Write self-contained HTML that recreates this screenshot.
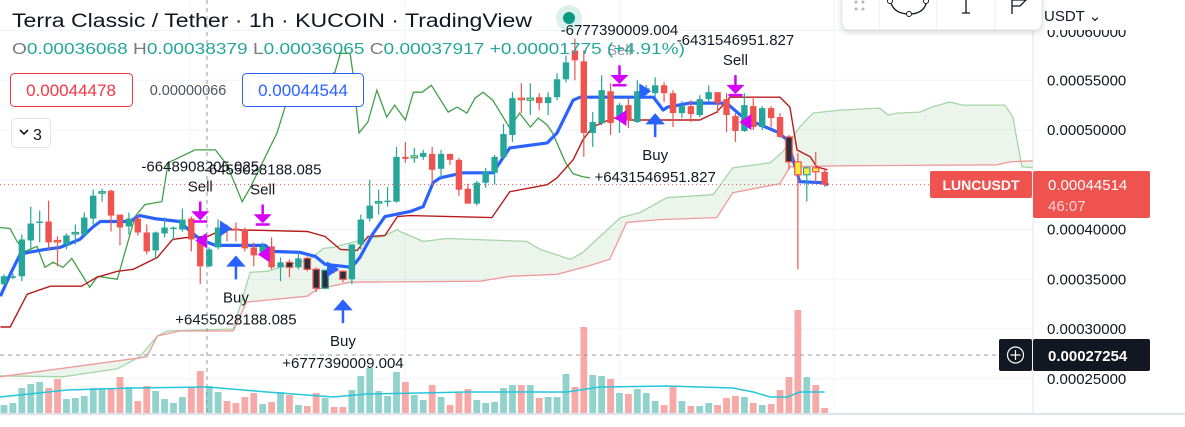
<!DOCTYPE html>
<html><head><meta charset="utf-8"><style>
html,body{margin:0;padding:0;background:#fff;overflow:hidden}
svg{display:block;font-family:"Liberation Sans",sans-serif}
</style></head><body>
<svg id="chart" width="1185" height="427" viewBox="0 0 1185 427" xmlns="http://www.w3.org/2000/svg">
<g id="grid"></g>
<g id="cloud"></g>
<g id="vol"></g>
<g id="lines"></g>
<g id="candles"></g>
<g id="marks"></g>
<g id="over"></g>
</svg>
<script>
// prices in units of 1e-5 USDT
const open=[34.5,35.2,35.3,38.9,40.7,40.8,38.9,38.5,39.6,39.5,41.1,43.7,43.9,41.5,40.3,41.1,39.7,37.9,39.6,40.1,40.0,41.1,39.0,36.3,38.2,40.2,40.1,40.0,38.2,37.7,38.3,36.2,36.7,36.2,37.1,36.0,34.1,36.0,35.8,35.0,38.5,41.1,42.7,42.8,42.8,47.3,47.2,47.3,47.6,46.1,47.6,47.0,44.1,42.6,44.7,45.7,47.3,49.5,53.2,53.0,53.3,52.7,53.3,55.1,58.0,56.9,49.7,50.7,53.9,51.0,52.5,50.8,53.8,53.7,54.5,53.7,51.7,52.4,51.5,53.1,53.8,53.1,51.4,49.9,52.4,50.3,52.2,51.3,49.3,46.8,45.5,46.2,45.8];
const close=[35.3,35.3,39.0,40.6,40.8,38.7,38.8,39.4,39.7,41.2,43.4,43.8,41.4,40.2,41.1,39.7,37.8,39.7,40.2,40.2,41.0,39.0,36.3,38.0,40.2,40.0,39.9,38.1,37.4,38.3,36.2,36.7,36.2,37.1,36.0,34.1,35.9,35.9,35.0,38.5,41.0,42.4,42.8,42.9,47.3,47.1,47.4,47.7,46.0,47.6,47.0,44.0,42.6,44.7,45.8,47.3,49.6,53.2,53.1,53.2,52.7,53.3,55.1,56.8,57.0,49.7,50.8,54.0,50.7,52.5,51.0,53.9,54.2,54.5,53.7,51.7,52.4,51.6,53.1,53.8,52.7,51.5,49.9,52.5,50.3,52.2,51.2,49.3,46.8,45.5,46.2,45.8,44.5];
const high=[35.5,35.6,39.5,42.3,41.9,42.9,39.3,39.6,40.5,41.7,44.0,44.1,44.0,41.5,41.7,41.4,40.5,39.8,41.2,40.3,42.1,41.3,39.2,38.2,41.0,40.5,40.7,40.2,38.7,38.7,39.2,37.2,37.0,37.7,37.3,36.2,36.0,36.3,35.9,38.5,41.5,45.0,44.0,44.3,48.3,48.8,48.2,48.0,48.3,48.0,47.6,47.2,44.6,44.9,46.2,47.5,50.6,53.8,54.7,54.7,53.7,53.8,55.7,57.5,59.2,58.0,51.8,55.5,54.7,52.7,53.2,55.0,54.5,55.3,54.8,54.0,52.9,53.0,53.5,54.5,53.8,53.7,51.7,53.7,53.4,52.4,52.4,51.7,49.5,47.7,46.3,47.8,46.2];
const low=[34.3,35.0,34.8,37.8,38.7,38.0,36.3,38.0,38.5,39.2,40.5,42.8,39.8,38.4,39.5,39.4,37.5,37.0,39.2,38.9,39.8,37.8,34.5,36.2,38.0,38.8,38.8,37.8,36.3,37.2,36.0,34.8,35.2,36.0,35.8,33.7,34.0,35.6,34.7,34.5,38.0,40.8,41.5,42.3,42.7,46.7,46.7,47.0,44.5,45.2,46.5,43.4,42.6,42.4,44.2,44.5,47.0,48.8,51.7,51.5,52.0,51.5,53.0,54.8,55.0,47.3,48.3,50.5,49.5,49.7,50.2,50.7,53.5,53.3,52.8,50.3,51.2,50.8,51.3,52.8,51.7,49.8,48.8,49.8,50.0,50.0,50.3,49.2,46.0,36.0,42.8,44.7,44.3];
const volume=[8,10,25,29,31,25,34,14,15,17,25,25,24,36,26,12,27,22,14,10,16,26,42,27,21,12,10,16,20,9,11,21,18,8,7,20,15,6,6,23,37,45,22,17,41,31,18,13,28,16,8,20,24,13,10,11,25,28,28,28,15,16,16,39,26,86,38,37,34,20,19,24,20,12,8,26,12,7,7,10,8,15,17,16,10,8,9,23,36,103,36,28,5];
const yellowBars=[6,8,11,42,46,58,59,89,90,91];
const darkBars=[32,34,35,36,37,38,88];
const baseIdx=[-0.4,0.7,1.8,2.7,4.6,6.3,8.5,9.9,10.8,14.1,15.2,16.9,19.7,20.9,22,23.7,29.3,30,33.2,34.9,36,39,39.9,41.3,42.7,45.5,47,48.1,48.9,51.5,54.8,56.7,60.9,62,63.8,64.6,71.9,72.8,73.9,74.4,76.9,81,82.3,83,86.7,87.8,88.9,89.2,91.8,92.4];
const baseVal=[33.3,35.5,37.5,37.7,38.0,38.2,39.0,40.2,40.8,40.8,41.4,41.1,40.8,39.8,39.0,38.4,38.4,37.8,37.7,37.3,36.5,36.2,37.2,39.5,41.3,41.8,42.3,44.7,45.2,45.7,45.7,48.2,48.7,49.7,53.0,53.3,53.3,53.3,52.0,52.3,52.7,52.7,51.7,51.2,49.8,49.0,45.7,44.8,44.7,44.5];
const kijunIdx=[-0.4,0.7,2.6,5.2,8.7,10.4,12.7,14.5,17.2,18.9,20.5,22.8,24.6,34,36,37.7,39.6,40.8,42.7,44.1,45.5,54.7,56.7,60.9,62,63.8,64.9,66,68.3,70.2,78,79.9,81.4,87,88.1,88.9,90.4,91.1,92.3];
const kijunVal=[30.2,30.2,33.5,34.3,34.3,35.2,35.8,36.0,37.2,39.0,39.2,39.3,40.0,39.8,39.3,38.0,37.9,39.3,39.4,41.3,41.4,41.2,43.8,44.5,45.2,47.0,49.0,50.3,51.2,51.0,51.0,51.8,53.3,53.3,52.3,48.0,47.3,46.3,46.0];
const lagIdx=[-0.45,0.67,1.46,2.35,3.7,4.6,5.5,6.6,7.6,9.6,10.5,12.7,14.7,15.8,17.7,18.4,21.4,23.7,25,26.7,27.6,30.6,31.5,34.3,37.1,37.7,38.8,39.1,39.8,40.8,41.8,42.9,43.8,45,45.9,46.9,47.9,49.8,50.8,51.9,52.8,53.7,54.8,56.7,57.8,59,59.9,60.9,61.5,62.9,63.8,64.9,65.7];
const lagVal=[40.2,40.1,38.8,37.8,38.3,36.2,36.7,36.2,37.1,34.2,35.3,35.0,41.3,42.5,42.8,46.7,48.0,48.0,46.5,42.8,44.2,49.7,52.3,54.5,55.8,57.7,57.7,55.8,49.7,50.8,54.0,51.3,52.5,51.0,53.8,53.8,54.5,51.8,52.3,51.7,53.2,53.8,53.0,50.2,51.7,50.3,51.2,50.5,49.7,46.8,45.6,45.3,45.2];
const spanAIdx=[-0.45,6.6,12.7,15.2,17.2,18.3,25.7,27.6,29.5,31.3,34.3,35.8,36.9,40.7,42.5,44.1,44.4,47,49.7,58.6,60.1,63.5,64.9,66.8,69.1,71.3,74.3,79.5,81.7,85.9,87.3,89.2,90.7,93.7,98.2,99.1,100.1,102.7,104,106,107.5,112.2,113.1,114.1,115.4];
const spanAVal=[25.3,25.2,26.0,27.2,29.3,29.8,30.0,35.7,35.8,36.3,37.0,38.1,38.2,39.1,39.3,40.0,39.8,38.8,39.1,38.8,38.0,37.0,37.7,39.3,41.2,41.7,43.2,43.5,46.2,46.7,47.8,50.3,51.7,52.0,52.2,51.5,51.7,51.8,52.3,52.8,52.5,52.5,51.3,46.3,46.2];
const spanBIdx=[-0.45,16,17.2,19.7,25.7,27.2,34,35.1,38.8,53.4,56.7,62,65.4,67.9,69.8,73.5,79.9,81.7,87,88.1,93.7,111.3,112.8,115.4];
const spanBVal=[25.2,27.2,29.3,29.8,29.8,32.7,33.3,34.0,34.7,34.8,35.3,35.5,36.3,37.0,40.7,41.0,41.2,43.7,44.6,46.3,46.4,46.5,46.8,46.9];
const volMaIdx=[-0.45,7.1,14.5,22.8,29.5,36.9,40.7,46.6,51.9,63.1,66.8,74.3,81.7,84,85.9,87.8,89.2,92];
const volMaVal=[16,23,25,26,21,16,19,20,21,21,26,27,25,21,16,16,21,21];
const sellIdx=[22,29,69,82];
const sellAt=[40.8,40.5,54.5,53.5];
const sellText=["-6648908205.025","-6455028188.085","-6777390009.004","-6431546951.827"];
const buyIdx=[26,38,73];
const buyAt=[37.2,32.8,51.5];
const buyText=["+6455028188.085","+6777390009.004","+6431546951.827"];
const exitShortIdx=[22,29,69,83];
const exitShortAt=[38.9,37.5,51.2,50.8];
const exitLongIdx=[25,37,72];
const exitLongAt=[40.1,36.0,53.9];
const priceTicks=[60,55,50,45,40,35,30,25];
const priceTickLabels=["","0.00055000","0.00050000","","0.00040000","0.00035000","0.00030000","0.00025000"];
const lastPrice=44.514;

const NS="http://www.w3.org/2000/svg";
function xOf(i){return 4+i*8.92;}
function yOf(v){return 130-(v-50)*9.95;}
function vOf(v){return 413-v;}
function mk(tag,attrs,parent){const e=document.createElementNS(NS,tag);for(const k in attrs)e.setAttribute(k,attrs[k]);parent.appendChild(e);return e;}
const G=id=>document.getElementById(id);
const TEAL="#26a69a",RED="#ef5350";

const grid=G('grid');
priceTicks.forEach((p,k)=>{
  const l=mk('line',{x1:0,x2:1033,y1:yOf(p),y2:yOf(p),stroke:'#f0f3fa','stroke-width':1},grid);
  
  
});
[190,405,620,834].forEach(x=>{
  const l=mk('line',{x1:x,x2:x,y1:0,y2:414,stroke:'#f0f3fa','stroke-width':1},grid);
  
  
});

function pts(idx,val,yf){return idx.map((i,k)=>xOf(i).toFixed(1)+','+yf(val[k]).toFixed(1)).join(' ');}

const cl=G('cloud');
const poly=pts(spanAIdx,spanAVal,yOf)+' '+spanBIdx.slice().reverse().map((i,k)=>xOf(i).toFixed(1)+','+yOf(spanBVal[spanBVal.length-1-k]).toFixed(1)).join(' ');
const cf=mk('polygon',{points:poly,fill:'rgba(67,160,71,0.1)'},cl);


const sa=mk('polyline',{points:pts(spanAIdx,spanAVal,yOf),fill:'none',stroke:'#a5d6a7','stroke-width':1.3},cl);


const sb=mk('polyline',{points:pts(spanBIdx,spanBVal,yOf),fill:'none',stroke:'#ef9a9a','stroke-width':1.3},cl);



const vg=G('vol');
volume.forEach((v,i)=>{
  const up=close[i]>=open[i];
  const r=mk('rect',{x:xOf(i)-3.4,y:vOf(v),width:6.8,height:v,fill:up?'#92d2cc':'#f7a9a7'},vg);
  
  
});
const vm=mk('polyline',{points:pts(volMaIdx,volMaVal,vOf),fill:'none',stroke:'#26c6da','stroke-width':1.5},vg);



const lg=G('lines');
const lag=mk('polyline',{points:pts(lagIdx,lagVal,yOf),fill:'none',stroke:'#43a047','stroke-width':1.3},lg);


const kj=mk('polyline',{points:pts(kijunIdx,kijunVal,yOf),fill:'none',stroke:'#b71c1c','stroke-width':1.4},lg);


const bl=mk('polyline',{points:pts(baseIdx,baseVal,yOf),fill:'none',stroke:'#2962ff','stroke-width':3.2,'stroke-linejoin':'round'},lg);



const cg=G('candles');
open.forEach((o,i)=>{
  const c=close[i],up=c>=o,col=up?TEAL:RED,x=xOf(i);
  const w=mk('line',{x1:x,x2:x,y1:yOf(high[i]),y2:yOf(low[i]),stroke:col,'stroke-width':1.2},cg);
  
  
  const top=yOf(Math.max(o,c)),h=Math.max(1.5,yOf(Math.min(o,c))-top);
  let fill=col,stroke='none';
  if(yellowBars.includes(i)){fill='#ffeb3b';stroke=col;}
  if(darkBars.includes(i)){fill='#2a2e39';stroke=col;}
  const b=mk('rect',{x:x-3.2,y:top,width:6.4,height:h,fill:fill,stroke:stroke,'stroke-width':1.2},cg);
  
  
});

const mg=G('marks');
function txt(x,y,s,attrs){const t=mk('text',Object.assign({x:x,y:y,'font-size':15,fill:'#131722','text-anchor':'middle'},attrs||{}),mg);t.textContent=s;return t;}
sellIdx.forEach((i,k)=>{
  const x=xOf(i),yb=yOf(sellAt[k]);
  const a=mk('path',{d:`M${x-7},${yb} h14 M${x},${yb-20} v12 M${x-6},${yb-9} l6,6 l6,-6 z`,stroke:'#d500f9','stroke-width':2.5,fill:'#d500f9'},mg);
  
  
  const t1=txt(x,yb-30,'Sell',{fill:k==2?'#9598a1':'#131722'});
  
  
  const t2=txt(x,yb-50,sellText[k]);
  
  
});
buyIdx.forEach((i,k)=>{
  const x=xOf(i),yt=yOf(buyAt[k]);
  const a=mk('path',{d:`M${x},${yt} l-7,8 h14 z M${x},${yt+6} v16`,stroke:'#2962ff','stroke-width':2.5,fill:'#2962ff'},mg);
  
  
  const t1=txt(x,yt+45,'Buy');
  
  
  const t2=txt(x,yt+67,buyText[k]);
  
  
});
exitShortIdx.forEach((i,k)=>{
  const x=xOf(i),y=yOf(exitShortAt[k]);
  const p=mk('path',{d:`M${x-5},${y} l12,-8 v16 z`,fill:'#d500f9'},mg);
  
  
});
exitLongIdx.forEach((i,k)=>{
  const x=xOf(i),y=yOf(exitLongAt[k]);
  const p=mk('path',{d:`M${x+5},${y} l-12,-8 v16 z`,fill:'#2962ff'},mg);
  
  
});

const ov=G('over');
const ly=yOf(lastPrice);
const lp=mk('line',{x1:0,x2:930,y1:ly,y2:ly,stroke:RED,'stroke-width':1,'stroke-dasharray':'1 3'},ov);


priceTicks.forEach((p,k)=>{
  if(!priceTickLabels[k])return;
  const t=mk('text',{x:1047,y:yOf(p)+5,'font-size':15,fill:'#131722'},ov);
  t.textContent=priceTickLabels[k];
  
  
});
</script>
<svg width="1185" height="427" style="position:absolute;left:0;top:0" viewBox="0 0 1185 427" xmlns="http://www.w3.org/2000/svg" font-family="Liberation Sans, sans-serif">
  <defs><clipPath id="topclip"><rect x="1035" y="30" width="150" height="20"/></clipPath></defs>
  <line x1="207" y1="0" x2="207" y2="414" stroke="#9598a1" stroke-dasharray="4 4"/>
  <line x1="0" y1="355" x2="999" y2="355" stroke="#9598a1" stroke-dasharray="4 4"/>
  <line x1="1033" y1="0" x2="1033" y2="415" stroke="#e0e3eb"/>
  <line x1="0" y1="414" x2="1185" y2="414" stroke="#e0e3eb" stroke-width="2"/>
  <text x="12" y="27" font-size="19" fill="#131722" textLength="520" lengthAdjust="spacingAndGlyphs">Terra Classic / Tether · 1h · KUCOIN · TradingView</text>
  <circle cx="569" cy="18" r="13" fill="rgba(8,153,129,0.15)"/>
  <circle cx="569" cy="18" r="6" fill="#089981"/>
  <text x="12" y="54" font-size="16" textLength="673" lengthAdjust="spacingAndGlyphs"><tspan fill="#787b86">O</tspan><tspan fill="#26a69a">0.00036068 </tspan><tspan fill="#787b86">H</tspan><tspan fill="#26a69a">0.00038379 </tspan><tspan fill="#787b86">L</tspan><tspan fill="#26a69a">0.00036065 </tspan><tspan fill="#787b86">C</tspan><tspan fill="#26a69a">0.00037917 +0.00001775 (+4.91%)</tspan></text>
  <rect x="10.5" y="73.5" width="122" height="33" rx="4" fill="#fff" stroke="#f23645"/>
  <text x="71" y="96" font-size="17" fill="#f23645" text-anchor="middle">0.00044478</text>
  <text x="188" y="95" font-size="14.5" fill="#50535e" text-anchor="middle">0.00000066</text>
  <rect x="242.5" y="73.5" width="121" height="33" rx="4" fill="#fff" stroke="#2962ff"/>
  <text x="303" y="96" font-size="17" fill="#2962ff" text-anchor="middle">0.00044544</text>
  <rect x="11.5" y="118.5" width="39" height="29" rx="4" fill="#fff" stroke="#e0e3eb"/>
  <path d="M20,130 l4,4 l4,-4" fill="none" stroke="#131722" stroke-width="1.6"/>
  <text x="33" y="140" font-size="16" fill="#131722">3</text>
  <text x="1047" y="37" font-size="15" fill="#131722" clip-path="url(#topclip)">0.00060000</text>
  <g>
    <rect x="842" y="-8" width="200" height="38" rx="7" fill="#fff" stroke="#e0e3eb" style="filter:drop-shadow(0 2px 3px rgba(0,0,0,0.15))"/>
    <circle cx="856" cy="2" r="1.5" fill="#b2b5be"/><circle cx="863" cy="2" r="1.5" fill="#b2b5be"/><circle cx="856" cy="9" r="1.5" fill="#b2b5be"/><circle cx="863" cy="9" r="1.5" fill="#b2b5be"/>
    <line x1="879" y1="-8" x2="879" y2="30" stroke="#eceef2"/>
    <path d="M890,0 Q893,14 909,14 Q925,14 927,0" fill="none" stroke="#131722" stroke-width="1.3"/>
    <circle cx="909" cy="14" r="2.5" fill="#fff" stroke="#131722"/><circle cx="890" cy="1" r="2.5" fill="#fff" stroke="#131722"/><circle cx="926" cy="1" r="2.5" fill="#fff" stroke="#131722"/>
    <line x1="937" y1="-8" x2="937" y2="30" stroke="#eceef2"/>
    <path d="M966,-2 v15 M962,13 h8" stroke="#131722" stroke-width="1.3"/>
    <line x1="995" y1="-8" x2="995" y2="30" stroke="#eceef2"/>
    <path d="M1012,14 v-16 M1012,0 h14 l-6,6 h-8" fill="none" stroke="#131722" stroke-width="1.3"/>
  </g>
  <text x="1044" y="21" font-size="15" fill="#131722">USDT ⌄</text>
  <rect x="930" y="171" width="102" height="27" rx="2" fill="#ef5350"/>
  <text x="981" y="190" font-size="14" font-weight="bold" fill="#fff" text-anchor="middle">LUNCUSDT</text>
  <rect x="1033" y="171" width="117" height="47" rx="2" fill="#ef5350"/>
  <text x="1048" y="190" font-size="15" fill="#fff">0.00044514</text>
  <text x="1048" y="211" font-size="15" fill="#fcd3d2">46:07</text>
  <rect x="999" y="339" width="33" height="32" rx="2" fill="#131722"/>
  <circle cx="1015.5" cy="355" r="8" fill="none" stroke="#fff" stroke-width="1.2"/>
  <path d="M1010.5,355 h10 M1015.5,350 v10" stroke="#fff" stroke-width="1.2"/>
  <rect x="1033" y="339" width="117" height="32" rx="2" fill="#131722"/>
  <text x="1048" y="361" font-size="15" font-weight="bold" fill="#fff">0.00027254</text>
</svg>
</body></html>
